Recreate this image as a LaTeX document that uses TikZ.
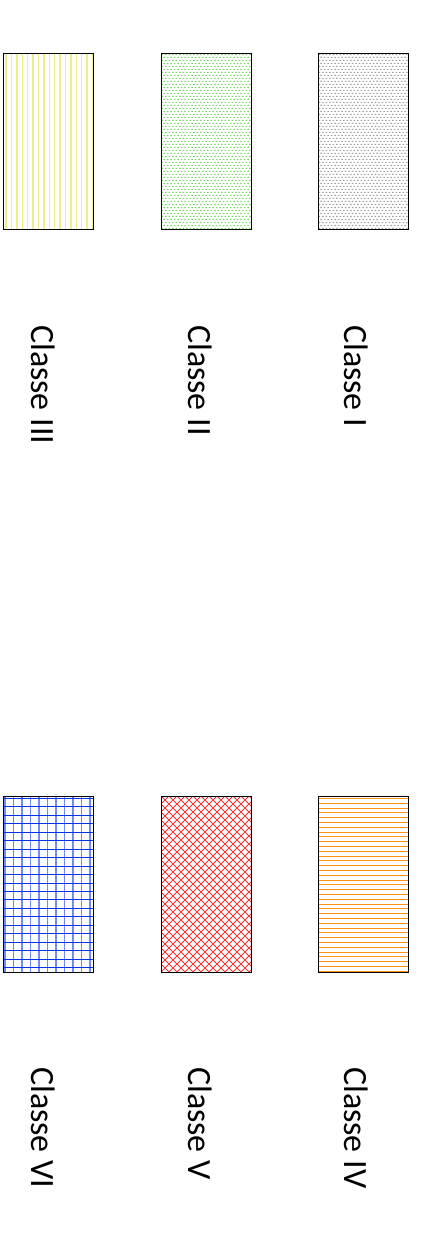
\documentclass[tikz,border=0pt]{standalone}
\usepackage{fontspec}
\setmainfont{Carlito}
\definecolor{cyel}{RGB}{240,238,140}
\definecolor{cgrn}{RGB}{120,215,100}
\definecolor{cgry}{RGB}{160,160,160}
\definecolor{cblu}{RGB}{0,50,240}
\definecolor{cblv}{RGB}{110,140,245}
\definecolor{cred}{RGB}{250,50,50}
\definecolor{cora}{RGB}{255,145,20}
\begin{document}
\begin{tikzpicture}[x=1pt,y=-1pt,
  box/.style={draw=black, line width=0.8pt, minimum width=90pt, minimum height=176pt,
    inner sep=0pt, outer sep=0pt, anchor=north west},
  lbl/.style={font=\fontsize{34}{40}\selectfont, inner sep=0pt, anchor=west,
    rotate=-90},
  vlines/.style={path picture={
    \path (path picture bounding box.north west) coordinate (o);
    \draw[draw=#1, line width=1.4pt] foreach \i in {0,...,16} {
      ([xshift=\i*5.4pt+3pt]o) -- ++(0pt,-176pt)};}},
  hlines/.style={path picture={
    \path (path picture bounding box.north west) coordinate (o);
    \draw[draw=#1, line width=1pt] foreach \i in {0,...,36} {
      ([yshift=-\i*4.8pt-2.5pt]o) -- ++(90pt,0pt)};}},
  sqgrid/.style 2 args={path picture={
    \path (path picture bounding box.north west) coordinate (o);
    \draw[draw=#2, line width=1.5pt] foreach \i in {0,...,10} {
      ([xshift=\i*8.5pt+2pt]o) -- ++(0pt,-176pt)};
    \draw[draw=#1, line width=1pt] foreach \j in {0,...,20} {
      ([yshift=-\j*8.45pt-2.5pt]o) -- ++(90pt,0pt)};}},
  xhatch/.style={path picture={
    \path (path picture bounding box.north west) coordinate (o);
    \draw[draw=#1, line width=0.8pt] foreach \c in {-184,-176,...,96} {
      ([xshift=\c*1pt]o) -- ++(176pt,-176pt)}
      foreach \c in {0,8,...,272} {
      ([xshift=\c*1pt]o) -- ++(-176pt,-176pt)};}},
  dots/.style={path picture={
    \path (path picture bounding box.north west) coordinate (o);
    \fill[fill=#1] foreach \j in {0,...,58} {
      foreach \i in {0,...,26} {
        ([shift={({\i*3.5pt+mod(\j,2)*1.75pt+0.5pt},{-\j*3pt-0.8pt})}]o) rectangle ++(1.7pt,-1.2pt)}};}},
]
\useasboundingbox (0,0) rectangle (422,1260);
% top row
\node[box, vlines=cyel] (b3) at (3,53) {};
\node[box, dots=cgrn] (b2) at (161,53) {};
\node[box, dots=cgry] (b1) at (318,53) {};
\node[lbl] (t3) at (43,325) {Classe III};
\node[lbl] (t2) at (200,325) {Classe II};
\node[lbl] (t1) at (356,325) {Classe I};
% bottom row
\node[box, sqgrid={cblu}{cblv}] (b6) at (3,796) {};
\node[box, xhatch=cred] (b5) at (161,796) {};
\node[box, hlines=cora] (b4) at (318,796) {};
\node[lbl] (t6) at (43,1067) {Classe VI};
\node[lbl] (t5) at (200,1067) {Classe V};
\node[lbl] (t4) at (356,1067) {Classe IV};
\end{tikzpicture}
\end{document}
